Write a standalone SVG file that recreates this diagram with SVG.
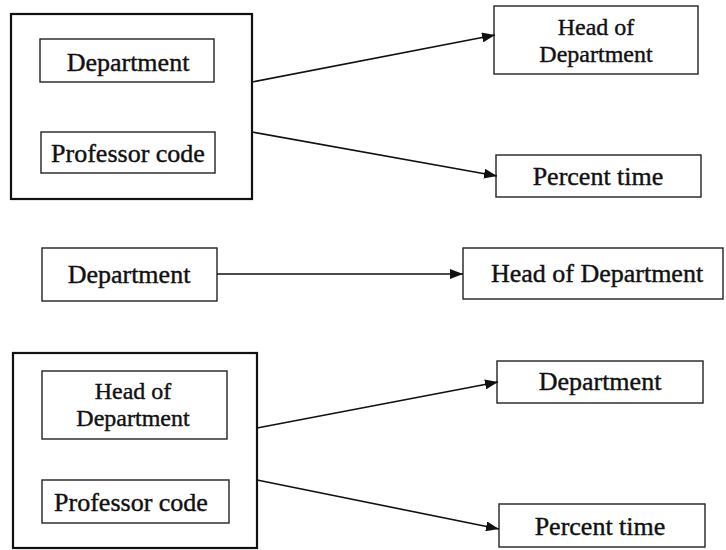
<svg xmlns="http://www.w3.org/2000/svg" width="726" height="550" viewBox="0 0 726 550">
<style>
.outer{fill:none;stroke:#111;stroke-width:2.2}
.box{fill:#fff;stroke:#222;stroke-width:1.4}
.lbl{font-family:"Liberation Serif","Times New Roman",serif;font-size:26px;fill:#111;stroke:#111;stroke-width:0.4;text-anchor:middle}
.two{font-size:24px}
.conn{stroke:#111;stroke-width:1.6;fill:none}
</style>
<defs>
<marker id="arr" markerUnits="userSpaceOnUse" markerWidth="14" markerHeight="10" refX="13" refY="5" orient="auto">
<path d="M0,0 L13,5 L0,10 z" fill="#111"/>
</marker>
</defs>
<rect width="726" height="550" fill="#fff"/>

<g id="group1">
<rect class="outer" x="11" y="14" width="241" height="185"/>
<g id="g1-dept"><rect class="box" x="40" y="39" width="174" height="43"/><text class="lbl" x="128" y="71">Department</text></g>
<g id="g1-prof"><rect class="box" x="41" y="132" width="174" height="41"/><text class="lbl" x="128" y="162">Professor code</text></g>
</g>
<g id="hod1"><rect class="box" x="494" y="6" width="204" height="68"/><text class="lbl two" x="596" y="35">Head of</text><text class="lbl two" x="596" y="62">Department</text></g>
<g id="pt1"><rect class="box" x="496" y="155" width="205" height="42"/><text class="lbl" x="598" y="185">Percent time</text></g>

<g id="dept2"><rect class="box" x="42" y="248" width="175" height="53"/><text class="lbl" x="129" y="283">Department</text></g>
<g id="hod2"><rect class="box" x="463" y="248" width="260" height="51"/><text class="lbl" x="597" y="282">Head of Department</text></g>

<g id="group3">
<rect class="outer" x="13" y="353" width="244" height="195"/>
<g id="g3-hod"><rect class="box" x="42" y="371" width="185" height="68"/><text class="lbl two" x="133" y="399">Head of</text><text class="lbl two" x="133" y="426">Department</text></g>
<g id="g3-prof"><rect class="box" x="42" y="480" width="187" height="43"/><text class="lbl" x="131" y="511">Professor code</text></g>
</g>
<g id="dept3"><rect class="box" x="497" y="361" width="206" height="42"/><text class="lbl" x="600" y="390">Department</text></g>
<g id="pt3"><rect class="box" x="499" y="504" width="206" height="43"/><text class="lbl" x="600" y="535">Percent time</text></g>

<g id="connectors">
<line class="conn" x1="252" y1="82" x2="495" y2="35" marker-end="url(#arr)"/>
<line class="conn" x1="252" y1="132" x2="497" y2="176" marker-end="url(#arr)"/>
<line class="conn" x1="217" y1="274" x2="463" y2="274" marker-end="url(#arr)"/>
<line class="conn" x1="257" y1="428" x2="498" y2="382" marker-end="url(#arr)"/>
<line class="conn" x1="257" y1="480" x2="499" y2="529" marker-end="url(#arr)"/>
</g>
</svg>
